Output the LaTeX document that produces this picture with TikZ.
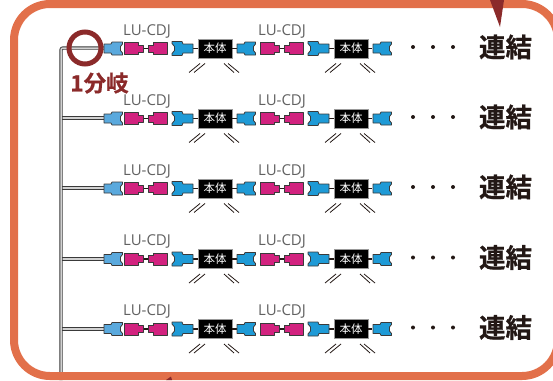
\documentclass[tikz,border=0pt]{standalone}
\usepackage{fontspec}
\setmainfont{Open Sans}
\newfontfamily\cjkbold{Noto Sans CJK JP}
\newfontfamily\cjkheavy[FakeBold=0.6]{Noto Sans CJK JP Bold}
\definecolor{frameor}{HTML}{E2704A}
\definecolor{darkred}{HTML}{8B2A2A}
\definecolor{lightblue}{HTML}{5AA9DD}
\definecolor{midblue}{HTML}{1E9AD6}
\definecolor{magentap}{HTML}{D2227F}
\definecolor{inkdark}{HTML}{231815}
\definecolor{edgegray}{HTML}{3A3A3A}
\tikzset{
  x=1pt,y=-1pt,
  frame/.style={draw=frameor,line width=8pt},
  trunk/.style={draw=edgegray,line width=0.9pt,double=lightgray!70,double distance=1.5pt},
  shapeedge/.style={draw=edgegray,line width=0.8pt,line join=round},
  link/.style={draw=inkdark,line width=1.8pt},
  ray/.style={draw=inkdark,line width=0.8pt},
  lu/.style={font=\fontsize{15}{15}\selectfont,text=black!62,inner sep=0pt},
  joined/.style={font=\cjkheavy\fontsize{26.5}{26.5}\selectfont,text=inkdark,inner sep=0pt},
  bodybox/.style={fill=black,draw=black!40,line width=0.4pt,minimum width=34pt,minimum height=19pt,inner sep=0pt,text=white,font=\cjkbold\fontsize{11.5}{11.5}\selectfont},
  dotm/.style={circle,fill=inkdark,minimum size=4pt,inner sep=0pt},
  plugl/.pic={% narrow on the left, notched on the right
    \path[shapeedge,pic actions] (0,-4.5) -- (7,-4.5) -- (8,-6.5) -- (18.5,-6.5) -- (18.5,-4.5) -- (16.5,-2) -- (16.5,2) -- (18.5,4.5) -- (18.5,6.5) -- (8,6.5) -- (7,4.5) -- (0,4.5) -- cycle;
  },
  plugr/.pic={% notched on the left, narrow on the right
    \path[shapeedge,pic actions] (0,-7) -- (10,-7) -- (11,-4.5) -- (21,-4.5) -- (21,4.5) -- (11,4.5) -- (10,7) -- (0,7) -- (0,5) -- (2.5,2) -- (2.5,-2) -- (0,-5) -- cycle;
  },
  magl/.pic={\path[shapeedge,fill=magentap] (0,-6) -- (14,-6) -- (14,-3.5) -- (19,-3.5) -- (19,3.5) -- (14,3.5) -- (14,6) -- (0,6) -- cycle;},
  magr/.pic={\path[shapeedge,fill=magentap] (0,-3.5) -- (5,-3.5) -- (5,-6) -- (19,-6) -- (19,6) -- (5,6) -- (5,3.5) -- (0,3.5) -- cycle;},
}
\begin{document}
\begin{tikzpicture}
\useasboundingbox (0,0) rectangle (553,380);
\clip (0,0) rectangle (553,380);
% trunk
\coordinate (trunktop) at (61,48);
\coordinate (trunkend) at (61,380);
\foreach \r/\y in {2/118,3/188,4/259,5/329}{
  \coordinate (tap\r) at (61,\y);
  \draw[trunk] (tap\r) -- (105,\y);
}
\draw[trunk,rounded corners=2pt] (105,48) -- (trunktop) -- (trunkend);
% rows
\foreach \r/\y in {1/48.5,2/118.5,3/188.5,4/259,5/329}{
  \begin{scope}[yshift=-\y pt]
    \coordinate (c1\r) at (143,0); \coordinate (c2\r) at (148,0);
    \coordinate (c3\r) at (193,0); \coordinate (c4\r) at (237,0);
    \coordinate (c5\r) at (279,0); \coordinate (c6\r) at (284,0);
    \coordinate (c7\r) at (329,0); \coordinate (c8\r) at (372,0);
    \node[bodybox] (bodya\r) at (215,0) {本体};
    \node[bodybox] (bodyb\r) at (351,0) {本体};
    \draw[link] (c1\r) -- (c2\r);
    \draw[link] (c3\r) -- (bodya\r.west);
    \draw[link] (bodya\r.east) -- (c4\r);
    \draw[link] (c5\r) -- (c6\r);
    \draw[link] (c7\r) -- (bodyb\r.west);
    \draw[link] (bodyb\r.east) -- (c8\r);
    \pic[fill=lightblue] at (104,0) {plugl};
    \pic at (124,0) {magl};
    \pic at (148,0) {magr};
    \pic[fill=midblue] at (172,0) {plugr};
    \pic[fill=midblue] at (237,0) {plugl};
    \pic at (260,0) {magl};
    \pic at (284,0) {magr};
    \pic[fill=midblue] at (308,0) {plugr};
    \pic[fill=midblue] at (373,0) {plugl};
    \node[lu] (lua\r) at (147,-17.5) {LU-CDJ};
    \node[lu] (lub\r) at (282,-17.5) {LU-CDJ};
    \node[dotm] (da\r) at (413,-1.5) {};
    \node[dotm] (db\r) at (433,-1.5) {};
    \node[dotm] (dc\r) at (453,-1.5) {};
    \node[joined] (join\r) at (505.5,-1.5) {連結};
    \foreach \o in {0,136}{
      \draw[ray] (189+\o,24) -- (200+\o,15);
      \draw[ray] (194+\o,24) -- (205+\o,15);
      \draw[ray] (224+\o,15) -- (234+\o,24);
      \draw[ray] (228+\o,15) -- (239+\o,24);
    }
  \end{scope}
}
% frame
\draw[frame,rounded corners=36pt] (14,4) rectangle (558,376);
% markers
\fill[darkred] (490,0) -- (504,0) -- (500,27) -- cycle;
\fill[darkred] (166,380) -- (171,376.5) -- (172,380) -- cycle;
\draw[darkred,line width=5pt] (85,48) circle (16);
\node[font=\cjkheavy\fontsize{22.5}{22.5}\selectfont,text=darkred,inner sep=0pt] (branch) at (99.5,83) {1分岐};
\end{tikzpicture}
\end{document}
